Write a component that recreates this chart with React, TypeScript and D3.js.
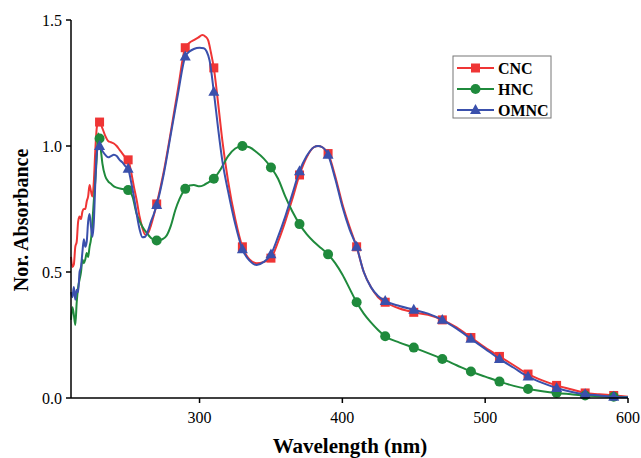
import React from "react";
import * as d3 from "d3";

const cncData: [number, number][] = [
  [210,0.56],[211,0.52],[212,0.53],[213,0.6],[214,0.62],[215,0.70],[216,0.72],[217,0.71],[218,0.74],[219,0.75],[220,0.75],[221,0.78],[222,0.80],[223,0.845],[224,0.82],[225,0.80],[226,0.86],[227,0.98],[228,1.07],[229,1.095],[230,1.095],[232,1.07],[234,1.04],[236,1.02],[238,1.015],[240,1.01],[242,1.00],[244,0.985],[246,0.97],[248,0.955],[250,0.945],[252,0.9],[254,0.84],[256,0.785],[258,0.72],[260,0.675],[262,0.648],[264,0.655],[266,0.685],[268,0.725],[270,0.77],[275,0.9],[280,1.06],[285,1.23],[290,1.39],[293,1.41],[296,1.42],[299,1.43],[302,1.44],[304,1.435],[306,1.42],[308,1.37],[310,1.31],[313,1.17],[316,1.02],[320,0.86],[325,0.71],[330,0.60],[335,0.55],[340,0.535],[345,0.54],[350,0.555],[355,0.62],[360,0.70],[365,0.79],[370,0.885],[375,0.955],[380,0.995],[383,1.0],[386,0.995],[390,0.97],[395,0.88],[400,0.77],[405,0.68],[410,0.60],[415,0.50],[420,0.44],[425,0.40],[430,0.38],[440,0.355],[450,0.34],[460,0.33],[470,0.31],[480,0.28],[490,0.24],[500,0.20],[510,0.165],[520,0.13],[530,0.095],[540,0.07],[550,0.05],[560,0.035],[570,0.02],[580,0.015],[590,0.01],[600,0.005]
];

const hncData: [number, number][] = [
  [210,0.31],[211,0.36],[212,0.33],[213,0.29],[214,0.38],[215,0.44],[216,0.47],[217,0.50],[218,0.55],[219,0.535],[220,0.55],[221,0.575],[222,0.56],[223,0.60],[224,0.63],[225,0.70],[226,0.785],[227,0.86],[228,0.95],[229,1.05],[230,1.03],[231,0.98],[232,0.93],[234,0.88],[236,0.86],[238,0.85],[240,0.84],[242,0.835],[245,0.83],[250,0.825],[253,0.80],[256,0.73],[260,0.68],[263,0.655],[266,0.635],[270,0.625],[274,0.63],[277,0.645],[280,0.685],[283,0.745],[286,0.79],[290,0.83],[293,0.843],[296,0.845],[300,0.84],[303,0.845],[306,0.855],[310,0.87],[315,0.91],[320,0.96],[325,0.99],[330,1.0],[335,0.995],[340,0.975],[345,0.95],[350,0.915],[355,0.87],[360,0.80],[365,0.74],[370,0.69],[375,0.65],[380,0.62],[385,0.595],[390,0.57],[395,0.535],[400,0.49],[405,0.435],[410,0.38],[415,0.335],[420,0.30],[425,0.27],[430,0.245],[440,0.22],[450,0.20],[460,0.178],[470,0.155],[480,0.13],[490,0.105],[500,0.085],[510,0.065],[520,0.048],[530,0.036],[540,0.027],[550,0.02],[560,0.015],[570,0.01],[580,0.007],[590,0.005],[600,0.004]
];

const omncData: [number, number][] = [
  [210,0.42],[211,0.40],[212,0.44],[213,0.39],[214,0.43],[215,0.42],[216,0.50],[217,0.52],[218,0.58],[219,0.63],[220,0.60],[221,0.62],[222,0.70],[223,0.73],[224,0.68],[225,0.64],[226,0.70],[227,0.85],[228,0.97],[229,0.995],[230,1.0],[232,0.98],[234,0.965],[236,0.955],[238,0.96],[240,0.965],[242,0.96],[244,0.945],[246,0.935],[248,0.92],[250,0.91],[252,0.86],[254,0.80],[256,0.73],[258,0.67],[260,0.638],[262,0.64],[264,0.665],[266,0.70],[268,0.73],[270,0.766],[275,0.89],[280,1.05],[285,1.21],[290,1.355],[293,1.375],[296,1.385],[300,1.39],[303,1.388],[305,1.375],[307,1.34],[310,1.215],[313,1.07],[316,0.94],[320,0.82],[325,0.69],[330,0.59],[335,0.545],[340,0.528],[345,0.54],[350,0.57],[355,0.64],[360,0.72],[365,0.81],[370,0.90],[375,0.96],[380,0.995],[383,1.0],[386,0.995],[390,0.965],[395,0.87],[400,0.76],[405,0.67],[410,0.60],[415,0.50],[420,0.44],[425,0.405],[430,0.385],[440,0.365],[450,0.35],[460,0.335],[470,0.31],[480,0.275],[490,0.235],[500,0.195],[510,0.155],[520,0.12],[530,0.085],[540,0.06],[550,0.04],[560,0.025],[570,0.015],[580,0.01],[590,0.005],[600,0.003]
];

const markerWavelengths = [230,250,270,290,310,330,350,370,390,410,430,450,470,490,510,530,550,570,590];
const xTicks = [300, 400, 500, 600];
const yTicks = [0, 0.5, 1.0, 1.5];
const seriesNames = ["CNC", "HNC", "OMNC"];
const seriesColors = ["#ef3535", "#1f8a3c", "#3a50ac"];
const seriesShapes = ["square", "circle", "triangle"];

const W = 641, H = 458;
const left = 71, right = 628, top = 20, bottom = 398;

function Marker({ shape, x, y, color }: { shape: string; x: number; y: number; color: string }) {
  if (shape === "square") return <rect x={x - 4.5} y={y - 4.5} width={9} height={9} fill={color} />;
  if (shape === "circle") return <circle cx={x} cy={y} r={5} fill={color} />;
  const s = 11;
  const h = s * 0.9;
  return <path d={`M${x},${y - h * 0.6}L${x + s / 2},${y + h * 0.4}L${x - s / 2},${y + h * 0.4}Z`} fill={color} />;
}

export default function App() {
  const x = d3.scaleLinear().domain([210, 600]).range([left, right]);
  const y = d3.scaleLinear().domain([0, 1.5]).range([bottom, top]);
  const line = d3.line<[number, number]>().x(d => x(d[0])).y(d => y(d[1])).curve(d3.curveMonotoneX);
  const all = [cncData, hncData, omncData];
  const font = "'Liberation Serif', 'Times New Roman', serif";

  return (
    <svg width={W} height={H} style={{ position: "absolute", left: 0, top: 0, background: "#fff" }} fontFamily={font}>
      {all.map((data, i) => (
        <g key={seriesNames[i]}>
          <path d={line(data) || ""} fill="none" stroke={seriesColors[i]} strokeWidth={2} />
          {data.filter(d => markerWavelengths.includes(d[0])).map(d => (
            <Marker key={d[0]} shape={seriesShapes[i]} x={x(d[0])} y={y(d[1])} color={seriesColors[i]} />
          ))}
        </g>
      ))}
      <line x1={left} x2={left} y1={top} y2={bottom} stroke="#000" strokeWidth={1.5} />
      <line x1={left} x2={right} y1={bottom} y2={bottom} stroke="#000" strokeWidth={1.5} />
      {yTicks.map(t => (
        <g key={t}>
          <line x1={left - 5} x2={left} y1={y(t)} y2={y(t)} stroke="#000" strokeWidth={1.5} />
          <text x={left - 9} y={y(t)} dy="0.35em" textAnchor="end" fontSize={16}>{d3.format(".1f")(t)}</text>
        </g>
      ))}
      {xTicks.map(t => (
        <g key={t}>
          <line x1={x(t)} x2={x(t)} y1={bottom} y2={bottom + 5} stroke="#000" strokeWidth={1.5} />
          <text x={x(t)} y={bottom + 25} textAnchor="middle" fontSize={16}>{t}</text>
        </g>
      ))}
      <text x={350} y={453} textAnchor="middle" fontSize={21} fontWeight="bold">Wavelength (nm)</text>
      <text transform="translate(28,220) rotate(-90)" textAnchor="middle" fontSize={20} fontWeight="bold">Nor. Absorbance</text>
      <rect x={453} y={56} width={98} height={62} fill="#fff" stroke="#777" strokeWidth={1} />
      {seriesNames.map((n, i) => {
        const ly = 68 + i * 21;
        return (
          <g key={n}>
            <line x1={457} x2={494} y1={ly} y2={ly} stroke={seriesColors[i]} strokeWidth={2} />
            <Marker shape={seriesShapes[i]} x={475.5} y={ly} color={seriesColors[i]} />
            <text x={498} y={ly} dy="0.35em" fontSize={16} fontWeight="bold">{n}</text>
          </g>
        );
      })}
    </svg>
  );
}
